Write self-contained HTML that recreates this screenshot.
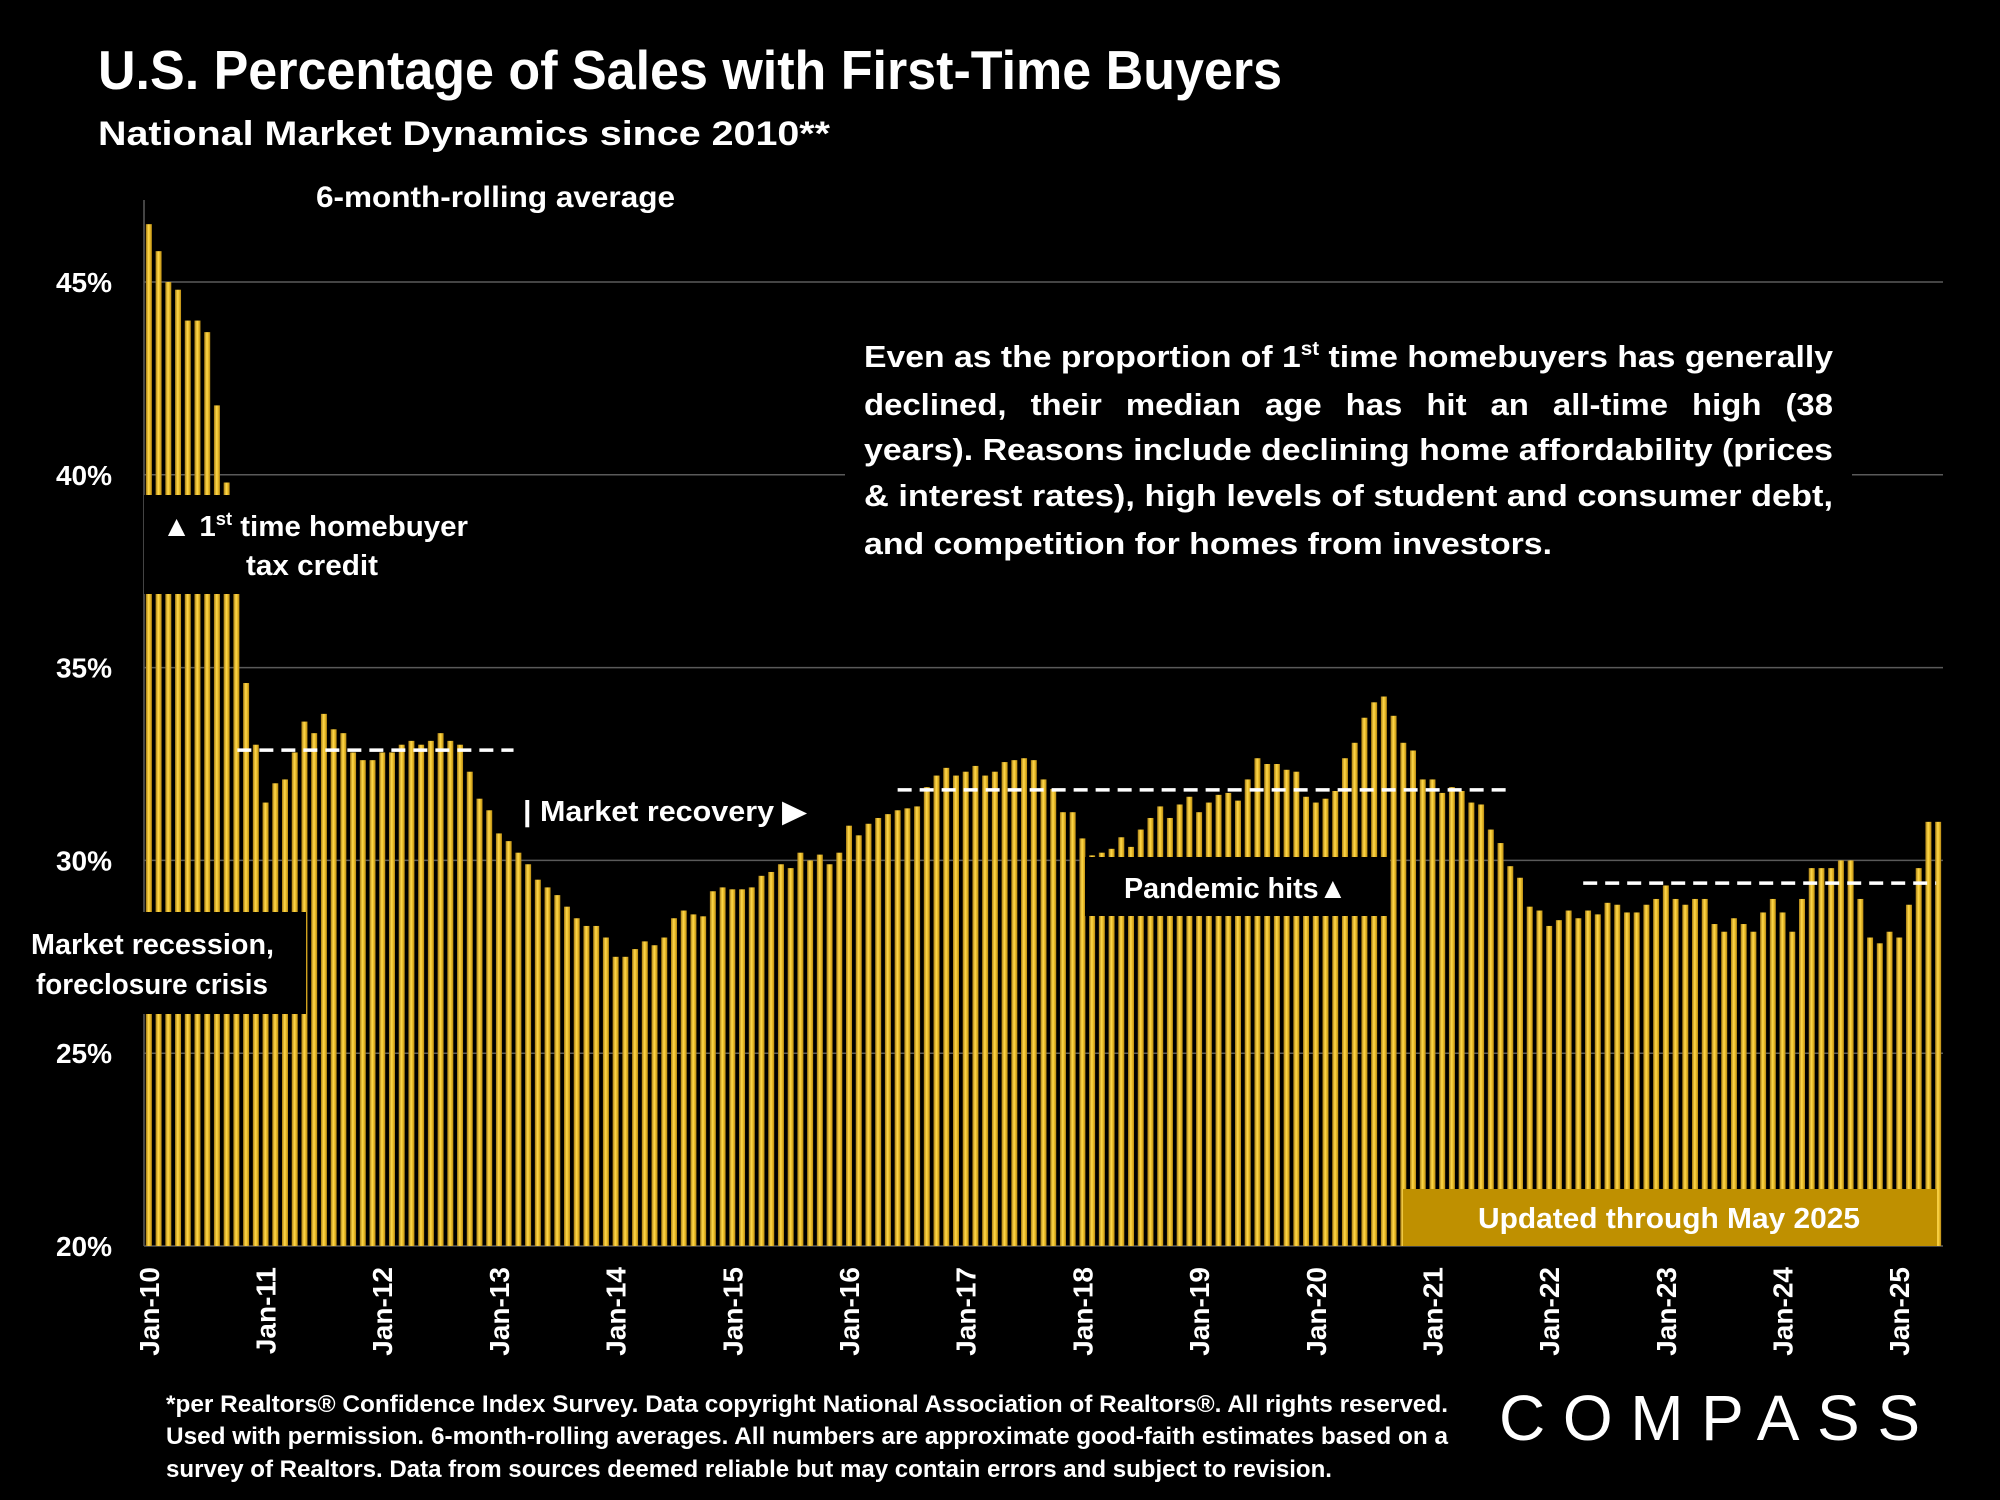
<!DOCTYPE html>
<html><head><meta charset="utf-8"><title>U.S. Percentage of Sales with First-Time Buyers</title>
<style>
html,body{margin:0;padding:0;background:#000;}
svg{display:block;font-family:"Liberation Sans",sans-serif;}
.b{font-weight:bold;fill:#fff;}
</style></head>
<body>
<svg id="chart" width="2000" height="1500" viewBox="0 0 2000 1500" xmlns="http://www.w3.org/2000/svg">
<defs>
<linearGradient id="gold" x1="0" x2="1" y1="0" y2="0">
<stop offset="0" stop-color="#a87c10"/><stop offset="0.45" stop-color="#ffd94d"/><stop offset="0.6" stop-color="#f4c730"/><stop offset="1" stop-color="#b88a14"/>
</linearGradient>
</defs>
<rect width="2000" height="1500" fill="#000"/>
<text class="b" x="98" y="89" font-size="55" textLength="1184" lengthAdjust="spacingAndGlyphs">U.S. Percentage of Sales with First-Time Buyers</text>
<text class="b" x="98" y="145" font-size="34" textLength="732" lengthAdjust="spacingAndGlyphs">National Market Dynamics since 2010**</text>
<text class="b" x="316" y="207" font-size="30" textLength="359" lengthAdjust="spacingAndGlyphs">6-month-rolling average</text>
<g id="grid"></g>
<g id="ylabels"></g>
<g id="bars"></g>
<g id="xlabels"></g>

<rect x="845" y="329" width="1007" height="245" fill="#000"/>
<g class="b" font-size="31">
<text x="864" y="367" textLength="969" lengthAdjust="spacingAndGlyphs">Even as the proportion of 1<tspan font-size="19" dy="-12">st</tspan><tspan dy="12"> time homebuyers has generally</tspan></text>
<text x="864" y="415" textLength="969" lengthAdjust="spacingAndGlyphs" style="word-spacing:14px">declined, their median age has hit an all-time high (38</text>
<text x="864" y="460" textLength="969" lengthAdjust="spacingAndGlyphs">years). Reasons include declining home affordability (prices</text>
<text x="864" y="506" textLength="969" lengthAdjust="spacingAndGlyphs">&amp; interest rates), high levels of student and consumer debt,</text>
<text x="864" y="554" textLength="688" lengthAdjust="spacingAndGlyphs">and competition for homes from investors.</text>
</g>

<rect x="144" y="495" width="346" height="99" fill="#000"/>
<text class="b" font-size="29" x="162" y="536" textLength="306" lengthAdjust="spacingAndGlyphs">▲ 1<tspan font-size="18" dy="-11">st</tspan><tspan dy="11"> time homebuyer</tspan></text>
<text class="b" font-size="29" x="246" y="575" textLength="132" lengthAdjust="spacingAndGlyphs">tax credit</text>

<rect x="19" y="912" width="287" height="102" fill="#000"/>
<text class="b" font-size="29" x="31" y="954" textLength="243" lengthAdjust="spacingAndGlyphs">Market recession,</text>
<text class="b" font-size="29" x="36" y="994" textLength="232" lengthAdjust="spacingAndGlyphs">foreclosure crisis</text>

<text class="b" font-size="29" x="523" y="821" textLength="283" lengthAdjust="spacingAndGlyphs">| Market recovery ▶</text>

<rect x="1085" y="857" width="305" height="59" fill="#000"/>
<text class="b" font-size="29" x="1124" y="898" textLength="223" lengthAdjust="spacingAndGlyphs">Pandemic hits▲</text>

<rect x="1403" y="1189" width="534" height="57" fill="#bf9000"/>
<text class="b" font-size="29" x="1478" y="1228" textLength="382" lengthAdjust="spacingAndGlyphs">Updated through May 2025</text>

<g id="avgs"></g>

<g class="b" font-size="24">
<text x="166" y="1412" textLength="1282" lengthAdjust="spacingAndGlyphs">*per Realtors® Confidence Index Survey. Data copyright National Association of Realtors®. All rights reserved.</text>
<text x="166" y="1444" textLength="1282" lengthAdjust="spacingAndGlyphs">Used with permission. 6-month-rolling averages. All numbers are approximate good-faith estimates based on a</text>
<text x="166" y="1477" textLength="1166" lengthAdjust="spacingAndGlyphs">survey of Realtors. Data from sources deemed reliable but may contain errors and subject to revision.</text>
</g>
<text x="1499" y="1440" font-size="64" fill="#fff" textLength="421" lengthAdjust="spacing">COMPASS</text>
</svg>
<script>
const years = ["10","11","12","13","14","15","16","17","18","19","20","21","22","23","24","25"];
const yTicks = [20, 25, 30, 35, 40, 45];
const values = [
46.5,45.8,45.0,44.8,44.0,44.0,43.7,41.8,39.8,38.0,34.6,33.0,
31.5,32.0,32.1,32.8,33.6,33.3,33.8,33.4,33.3,32.8,32.6,32.6,
32.8,32.8,33.0,33.1,33.0,33.1,33.3,33.1,33.0,32.3,31.6,31.3,
30.7,30.5,30.2,29.9,29.5,29.3,29.1,28.8,28.5,28.3,28.3,28.0,
27.5,27.5,27.7,27.9,27.8,28.0,28.5,28.7,28.6,28.55,29.2,29.3,
29.25,29.25,29.3,29.6,29.7,29.9,29.8,30.2,30.0,30.15,29.9,30.2,
30.9,30.65,30.95,31.1,31.2,31.3,31.35,31.4,31.9,32.2,32.4,32.2,
32.3,32.45,32.2,32.3,32.55,32.6,32.65,32.6,32.1,31.85,31.25,31.25,
30.57,30.13,30.2,30.3,30.6,30.35,30.8,31.1,31.4,31.1,31.45,31.65,
31.25,31.5,31.7,31.75,31.55,32.1,32.65,32.5,32.5,32.35,32.3,31.65,
31.5,31.6,31.8,32.65,33.05,33.7,34.1,34.25,33.75,33.05,32.85,32.1,
32.1,31.75,31.9,31.8,31.5,31.45,30.8,30.45,29.85,29.55,28.8,28.7,
28.3,28.45,28.7,28.5,28.7,28.6,28.9,28.85,28.65,28.65,28.85,29.0,
29.35,29.0,28.85,29.0,29.0,28.35,28.15,28.5,28.35,28.15,28.65,29.0,
28.65,28.15,29.0,29.8,29.8,29.8,30.0,30.0,29.0,28.0,27.85,28.15,
28.0,28.85,29.8,31.0,31.0
];
const avgValues = [32.86, 31.83, 29.41];
const avgStart = [9.6, 77.5, 148.0];
const avgEnd = [38.0, 140.4, 184.3];

const NS = "http://www.w3.org/2000/svg";
const X0 = 144, X1 = 1943, Y20 = 1246, PER = (1246 - 282) / 25;
const band = (X1 - X0) / values.length;
function xPos(i) { return X0 + (i + 0.5) * band; }
function xEdge(i) { return X0 + i * band; }
function yPos(v) { return Y20 - (v - 20) * PER; }
function mk(tag, attrs, parent) {
  const e = document.createElementNS(NS, tag);
  for (const k in attrs) e.setAttribute(k, attrs[k]);
  parent.appendChild(e);
  return e;
}
const grid = document.getElementById("grid"), yl = document.getElementById("ylabels");
yTicks.forEach(t => {
  const l = mk("line", {x1: X0, x2: X1, y1: yPos(t), y2: yPos(t), stroke: "#5a5a5a", "stroke-width": 1.5}, grid);
  
  
  const tx = mk("text", {x: 112, y: yPos(t) + 10, "text-anchor": "end", "font-size": 28, "font-weight": "bold", fill: "#fff"}, yl);
  tx.textContent = t + "%";
  
  
});
const bars = document.getElementById("bars");
values.forEach((v, i) => {
  const w = 6;
  const r = mk("rect", {x: xPos(i) - w / 2, y: yPos(v), width: w, height: Y20 - yPos(v), fill: "url(#gold)"}, bars);
  
  
});
mk("line", {x1: X0, x2: X0, y1: 200, y2: Y20, stroke: "#5a5a5a", "stroke-width": 1.5}, grid);
const xl = document.getElementById("xlabels");
years.forEach((yr, k) => {
  const cx = xPos(k * 12);
  const t = mk("text", {x: 0, y: 0, "text-anchor": "end", "font-size": 28, "font-weight": "bold", fill: "#fff",
    "font-family": "'Liberation Sans Narrow','Liberation Sans',sans-serif",
    transform: "translate(" + (cx + 10) + ",1267) rotate(-90)"}, xl);
  t.textContent = "Jan-" + yr;
  
  
});
const avgs = document.getElementById("avgs");
avgValues.forEach((v, k) => {
  const l = mk("line", {x1: xEdge(avgStart[k]), x2: xEdge(avgEnd[k]), y1: yPos(v), y2: yPos(v), stroke: "#fff", "stroke-width": 3.5, "stroke-dasharray": "14 8"}, avgs);
  
  
});
</script>
</body></html>
